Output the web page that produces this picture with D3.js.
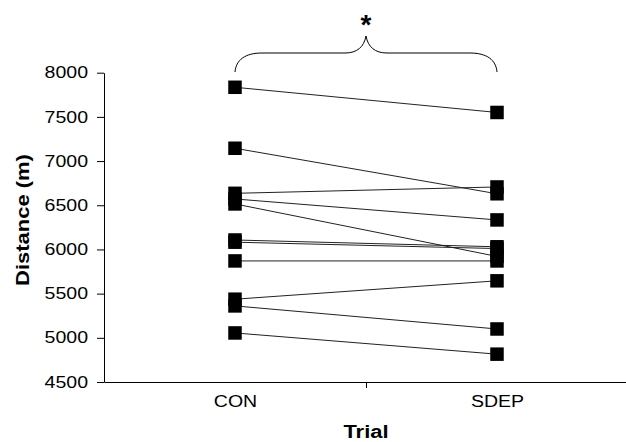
<!DOCTYPE html>
<html>
<head>
<meta charset="utf-8">
<script src="https://cdn.jsdelivr.net/npm/d3@7"></script>
<style>
  html, body { margin: 0; padding: 0; background: #fff; }
  svg { display: block; font-family: "Liberation Sans", Arial, sans-serif; }
</style>
</head>
<body>
<script>
const width = 626;
const height = 442;

// data, one value per subject
const trials = ['CON', 'SDEP'];
const conValues  = [7835, 7145, 6635, 6571, 6515, 6107, 6082, 5870, 5437, 5361, 5055];
const sdepValues = [7550, 6630, 6707, 6334, 5921, 6030, 6010, 5870, 5645, 5100, 4815];
const yTicks = [4500, 5000, 5500, 6000, 6500, 7000, 7500, 8000];

const stretch = 1.22; // the original font is drawn wider than Arial
const font = '"Liberation Sans", Arial, sans-serif';

const plotLeft = 104, plotRight = 628, plotTop = 72.7, plotBottom = 382;

const svg = d3.select('body')
    .append('svg')
    .attr('width', width)
    .attr('height', height);

const x = d3.scalePoint().domain(trials).range([plotLeft, plotRight]).padding(0.5);
const y = d3.scaleLinear().domain([4500, 8000]).range([plotBottom, plotTop]);

function widen(sel) {
    sel.each(function () {
        const w = this.getComputedTextLength();
        d3.select(this).attr('textLength', w * stretch).attr('lengthAdjust', 'spacingAndGlyphs');
    });
}

// y axis
const yAxis = svg.append('g')
    .attr('transform', `translate(${plotLeft},0)`)
    .call(d3.axisLeft(y).tickValues(yTicks).tickFormat(d3.format('d'))
        .tickSize(7).tickSizeOuter(0).tickPadding(9));
yAxis.attr('font-family', font);
yAxis.selectAll('text').style('font-size', '16px').attr('fill', '#000');
yAxis.selectAll('line, path').attr('stroke', '#000');
widen(yAxis.selectAll('text'));

// x axis: line with a tick between the categories
const xLine = d3.scaleLinear().domain([0, 2]).range([plotLeft, plotRight]);
const xAxis = svg.append('g')
    .attr('transform', `translate(0,${plotBottom})`)
    .call(d3.axisBottom(xLine).tickValues([1]).tickSize(6).tickSizeOuter(0).tickFormat(''));
xAxis.selectAll('line, path').attr('stroke', '#000');

const xLabels = svg.append('g')
    .attr('transform', `translate(0,${plotBottom})`)
    .call(d3.axisBottom(x).tickSize(0).tickPadding(14));
xLabels.attr('font-family', font);
xLabels.select('.domain').remove();
xLabels.selectAll('text').style('font-size', '16px').attr('fill', '#000');
widen(xLabels.selectAll('text'));

// subject lines
const pairs = conValues.map((v, i) => [v, sdepValues[i]]);
svg.append('g')
    .selectAll('line')
    .data(pairs)
    .enter()
    .append('line')
    .attr('x1', x('CON'))
    .attr('x2', x('SDEP'))
    .attr('y1', d => y(d[0]))
    .attr('y2', d => y(d[1]))
    .attr('stroke', '#222')
    .attr('stroke-width', 1);

// markers
const size = 13.5;
const points = [];
conValues.forEach(v => points.push(['CON', v]));
sdepValues.forEach(v => points.push(['SDEP', v]));
svg.append('g')
    .selectAll('rect')
    .data(points)
    .enter()
    .append('rect')
    .attr('x', d => x(d[0]) - size / 2)
    .attr('y', d => y(d[1]) - size / 2)
    .attr('width', size)
    .attr('height', size)
    .attr('fill', '#000');

// axis titles
const yTitle = svg.append('text')
    .attr('transform', `translate(29,220) rotate(-90)`)
    .attr('text-anchor', 'middle')
    .style('font-size', '18px')
    .style('font-weight', 'bold')
    .text('Distance (m)');
widen(yTitle);

const xTitle = svg.append('text')
    .attr('x', (plotLeft + plotRight) / 2)
    .attr('y', 438)
    .attr('text-anchor', 'middle')
    .style('font-size', '18px')
    .style('font-weight', 'bold')
    .text('Trial');
widen(xTitle);

// brace with significance mark
const x0 = x('CON'), x1 = x('SDEP'), xm = (x0 + x1) / 2;
const yEnd = 72, yFlat = 53, yPeak = 36;
const brace = `M${x0},${yEnd} C${x0 + 1},${yEnd - 12} ${x0 + 10},${yFlat} ${x0 + 27},${yFlat}
  L${xm - 21},${yFlat} C${xm - 9},${yFlat} ${xm - 2},${yFlat - 6} ${xm},${yPeak}
  C${xm + 2},${yFlat - 6} ${xm + 9},${yFlat} ${xm + 21},${yFlat}
  L${x1 - 27},${yFlat} C${x1 - 10},${yFlat} ${x1 - 1},${yEnd - 12} ${x1},${yEnd}`;
svg.append('path')
    .attr('d', brace)
    .attr('fill', 'none')
    .attr('stroke', '#000')
    .attr('stroke-width', 1);

svg.append('text')
    .attr('x', xm)
    .attr('y', 34)
    .attr('text-anchor', 'middle')
    .style('font-size', '28px')
    .style('font-weight', 'bold')
    .text('*');
</script>
</body>
</html>
